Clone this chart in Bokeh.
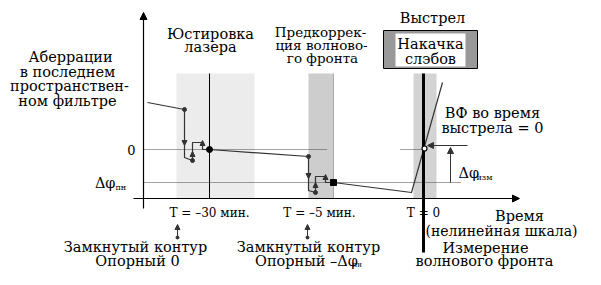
from bokeh.plotting import figure
from bokeh.models import Range1d, Arrow, NormalHead
from bokeh.core.properties import value
from bokeh.embed import file_html
from bokeh.resources import INLINE

FONT = "DejaVu Serif"

# Schematic coordinates: x = position on the nonlinear time scale, y = aberration level
zero_level = 49
dphi_pn_level = 16

band_left = [33, 165, 270]
band_right = [111, 190, 293]
band_top = 125
band_colors = ["#ececec", "#cdcdcd", "#d3d3d3"]

# aberration trajectory
curve_x = [4, 41, 41, 49, 49, 59, 59, 66, 165, 165, 172, 172, 182, 182, 190, 268, 299]
curve_y = [96, 89, 41, 38, 56, 56, 49, 49, 42, 8, 6, 22, 22, 16, 16, 6, 116]

dot_x = [41, 49, 165, 172]
dot_y = [89, 38, 42, 6]
big_dot_x = [66]
big_dot_y = [49]
square_x = [190]
square_y = [16]
shot_x = [281]
shot_y = [50]

tick_x = [66, 176, 280]
tick_labels = ["T = –30 мин.", "T = –5 мин.", "T = 0"]

p = figure(width=585, height=269, x_range=Range1d(-143, 442), y_range=Range1d(-71, 198),
           toolbar_location=None, output_backend="svg", x_axis_type=None, y_axis_type=None,
           min_border=0, outline_line_color=None)
p.grid.visible = False

# bands
p.quad(left=band_left, right=band_right, top=band_top, bottom=0, fill_color=band_colors,
       line_color=None)
p.line([190, 190], [0, band_top], line_color="#aaaaaa", line_width=1)

# dotted reference levels
p.line([0, 183], [zero_level, zero_level], line_dash="1 1", line_color="#444444", line_width=1)
p.line([257, 280], [zero_level, zero_level], line_dash="1 1", line_color="#444444", line_width=1)
p.line([0, 317], [dphi_pn_level, dphi_pn_level], line_dash="1 1", line_color="#444444", line_width=1)

# vertical marker at T = -30
p.line([66, 66], [0, band_top], line_color="black", line_width=1)

# axes
p.add_layout(Arrow(x_start=0, y_start=-10, x_end=0, y_end=186, line_width=1.2,
                   end=NormalHead(size=7, fill_color="black", line_color="black")))
p.add_layout(Arrow(x_start=-10, y_start=0, x_end=376, y_end=0, line_width=1.2,
                   end=NormalHead(size=7, fill_color="black", line_color="black")))

# curve
p.line(curve_x, curve_y, line_color="#333333", line_width=1.2)
p.line([280, 280], [band_top, -54], line_color="black", line_width=3)
p.scatter(dot_x, dot_y, size=4, color="#333333")
p.scatter(big_dot_x, big_dot_y, size=6, color="black")
p.scatter(square_x, square_y, marker="square", size=6, color="black")
p.scatter(shot_x, shot_y, size=5, fill_color="white", line_color="black", line_width=1.2)


def head(x0, y0, x1, y1, size=5):
    p.add_layout(Arrow(x_start=x0, y_start=y0, x_end=x1, y_end=y1, line_width=1, line_color="#333333",
                       end=NormalHead(size=size, fill_color="#333333", line_color="#333333")))


head(41, 70, 41, 53)
head(49, 40, 49, 47)
head(59, 50, 59, 58)
head(165, 32, 165, 20)
head(172, 8, 172, 16)
head(182, 18, 182, 24)
head(324, 53, 284, 53, 6)
head(307, 16, 307, 51, 6)
head(34, -39, 34, -26)
head(164, -39, 164, -26)
p.scatter([34, 164], [-39, -39], size=3, color="#333333")

# shot box
p.quad(left=240, right=334, top=168, bottom=130, fill_color="#999999", line_color="black", line_width=1)
p.quad(left=252, right=322, top=165, bottom=132, fill_color="white", line_color=None)


def txt(x, y, s, size=14.5, align="center"):
    p.text([x], [y], text=[s], text_font=value(FONT), text_font_size=f"{size}px",
           text_align=align, text_baseline="middle", text_color="black")


txt(-73, 142, "Аберрации")
txt(-76, 127, "в последнем")
txt(-74, 113, "пространствен-")
txt(-76, 98, "ном фильтре")
txt(67, 165, "Юстировка")
txt(67, 152, "лазера")
txt(177, 167, "Предкоррек-", 13.5)
txt(178, 154, "ция волново-", 13.5)
txt(179, 141, "го фронта", 13.5)
txt(289, 181, "Выстрел")
txt(287, 155, "Накачка")
txt(287, 140, "слэбов")
txt(-8, zero_level, "0", 13, "right")
txt(-28, dphi_pn_level, "Δφ", 14.5, "right")
txt(-28, dphi_pn_level - 5, "пн", 8, "left")
for tx, tl in zip(tick_x, tick_labels):
    txt(tx, -14, tl, 12)
txt(376, -17, "Время")
txt(358, -32, "(нелинейная шкала)", 14)
txt(349, 86, "ВФ во время")
txt(349, 71, "выстрела = 0")
txt(315, 26, "Δφ", 14.5, "left")
txt(333, 21, "изм", 8, "left")
txt(-8, -48, "Замкнутый контур")
txt(-6, -62, "Опорный 0")
txt(165, -48, "Замкнутый контур")
txt(163, -62, "Опорный –Δφ")
txt(209, -66, "пн", 7, "left")
txt(342, -49, "Измерение")
txt(341, -62, "волнового фронта")

open("out.html", "w").write(file_html(p, INLINE))
